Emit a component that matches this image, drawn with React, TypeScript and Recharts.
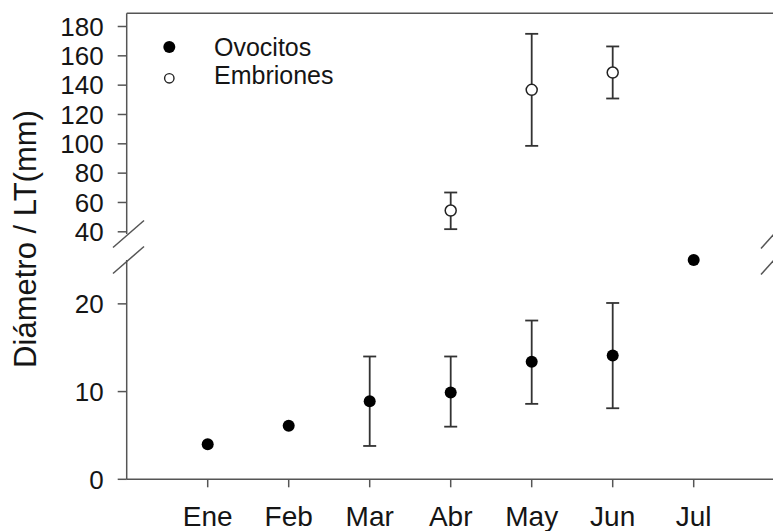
import React from 'react';
import { ScatterChart, Scatter, XAxis, YAxis, ErrorBar, ReferenceLine } from 'recharts';

const months = ['Ene', 'Feb', 'Mar', 'Abr', 'May', 'Jun', 'Jul'];
const monthPos = [1, 2, 3, 4, 5, 6, 7];

const ovocitosMean: (number | null)[] = [4.0, 6.1, 8.9, 9.9, 13.4, 14.1, 25.0];
const ovocitosLow: (number | null)[] = [null, null, 3.8, 6.0, 8.6, 8.1, null];
const ovocitosHigh: (number | null)[] = [null, null, 14.0, 14.0, 18.1, 20.1, null];

const embrionesMean: (number | null)[] = [null, null, null, 54.5, 136.8, 148.6, null];
const embrionesLow: (number | null)[] = [null, null, null, 41.8, 98.6, 130.9, null];
const embrionesHigh: (number | null)[] = [null, null, null, 66.8, 175.0, 166.4, null];

const upperTicks = [40, 60, 80, 100, 120, 140, 160, 180];
const lowerTicks = [0, 10, 20];
const upperDomain = [38.5, 189];
const lowerDomain = [0, 25];
const xDomain = [0, 8];

type Pt = { x: number; y: number; err?: number[] };

const buildPoints = (
  mean: (number | null)[],
  low: (number | null)[],
  high: (number | null)[],
  withErr: boolean
): Pt[] => {
  const out: Pt[] = [];
  mean.forEach((m, i) => {
    if (m == null) return;
    const hasErr = low[i] != null && high[i] != null;
    if (hasErr !== withErr) return;
    const p: Pt = { x: monthPos[i], y: m };
    if (hasErr) p.err = [m - (low[i] as number), (high[i] as number) - m];
    out.push(p);
  });
  return out;
};

const ovoErr = buildPoints(ovocitosMean, ovocitosLow, ovocitosHigh, true);
const ovoPlain = buildPoints(ovocitosMean, ovocitosLow, ovocitosHigh, false);
const embErr = buildPoints(embrionesMean, embrionesLow, embrionesHigh, true);

const FONT = '"Liberation Sans", Arial, Helvetica, sans-serif';
const AXIS = '#555';
const TEXT = '#151515';
const ERR = '#333';

const FilledDot = (p: any) => <circle cx={p.cx} cy={p.cy} r={6} fill="#000" />;
const OpenDot = (p: any) => (
  <circle cx={p.cx} cy={p.cy} r={5.5} fill="#fff" stroke="#222" strokeWidth={1.5} />
);

const PLOT_LEFT = 126.7;
const PLOT_RIGHT = 774.7;
const CH_W = 800;
const Y_W = 60;

export default function App() {
  return (
    <div
      style={{
        position: 'absolute',
        left: 0,
        top: 0,
        width: 773,
        height: 531,
        overflow: 'hidden',
        background: '#fff',
        fontFamily: FONT,
      }}
    >
      {/* Upper segment */}
      <div style={{ position: 'absolute', left: 0, top: 0 }}>
        <ScatterChart
          width={CH_W}
          height={262}
          margin={{ top: 13.3, right: CH_W - PLOT_RIGHT, bottom: 28, left: PLOT_LEFT - Y_W }}
        >
          <XAxis type="number" dataKey="x" domain={xDomain} hide />
          <YAxis
            type="number"
            dataKey="y"
            domain={upperDomain}
            ticks={upperTicks}
            width={Y_W}
            interval={0}
            tickSize={9}
            tickMargin={14}
            axisLine={{ stroke: AXIS, strokeWidth: 1.5 }}
            tickLine={{ stroke: AXIS, strokeWidth: 1.5 }}
            tick={{ fill: TEXT, fontSize: 26, fontFamily: FONT }}
          />
          <ReferenceLine y={189} stroke={AXIS} strokeWidth={1.5} />
          <Scatter data={embErr} shape={OpenDot} isAnimationActive={false}>
            <ErrorBar dataKey="err" direction="y" width={6.5} stroke={ERR} strokeWidth={1.8} />
          </Scatter>
        </ScatterChart>
      </div>

      {/* Lower segment */}
      <div style={{ position: 'absolute', left: 0, top: 0 }}>
        <ScatterChart
          width={CH_W}
          height={531}
          margin={{ top: 260, right: CH_W - PLOT_RIGHT, bottom: 0, left: PLOT_LEFT - Y_W }}
        >
          <XAxis
            type="number"
            dataKey="x"
            domain={xDomain}
            ticks={monthPos}
            interval={0}
            height={51.7}
            tickFormatter={(v: number) => months[v - 1] ?? ''}
            tickSize={8}
            tickMargin={18.5}
            axisLine={{ stroke: AXIS, strokeWidth: 1.5 }}
            tickLine={{ stroke: AXIS, strokeWidth: 1.5 }}
            tick={{ fill: TEXT, fontSize: 28, fontFamily: FONT }}
          />
          <YAxis
            type="number"
            dataKey="y"
            domain={lowerDomain}
            ticks={lowerTicks}
            width={Y_W}
            interval={0}
            tickSize={9}
            tickMargin={14}
            axisLine={{ stroke: AXIS, strokeWidth: 1.5 }}
            tickLine={{ stroke: AXIS, strokeWidth: 1.5 }}
            tick={{ fill: TEXT, fontSize: 26, fontFamily: FONT }}
          />
          <Scatter data={ovoErr} shape={FilledDot} isAnimationActive={false}>
            <ErrorBar dataKey="err" direction="y" width={6.5} stroke={ERR} strokeWidth={1.8} />
          </Scatter>
          <Scatter data={ovoPlain} shape={FilledDot} isAnimationActive={false} />
        </ScatterChart>
      </div>

      {/* Overlay: axis breaks, title, legend */}
      <svg
        width={773}
        height={531}
        style={{ position: 'absolute', left: 0, top: 0, pointerEvents: 'none' }}
      >
        <g stroke={AXIS} strokeWidth={1.5}>
          <line x1={113} y1={247.5} x2={144} y2={220.5} />
          <line x1={113} y1={273.5} x2={144} y2={246.5} />
          <line x1={761} y1={248.5} x2={786} y2={220.5} />
          <line x1={761} y1={274.5} x2={786} y2={246.5} />
        </g>
        <text
          transform="translate(36,239) rotate(-90)"
          textAnchor="middle"
          fontSize={31}
          fontFamily={FONT}
          fill={TEXT}
        >
          Diámetro / LT(mm)
        </text>
        <circle cx={169.3} cy={47} r={6} fill="#000" />
        <text x={214} y={56} fontSize={25} fontFamily={FONT} fill={TEXT}>
          Ovocitos
        </text>
        <circle cx={169.3} cy={78.3} r={4.7} fill="#fff" stroke="#222" strokeWidth={1.4} />
        <text x={214} y={84.3} fontSize={25} fontFamily={FONT} fill={TEXT}>
          Embriones
        </text>
      </svg>
    </div>
  );
}
